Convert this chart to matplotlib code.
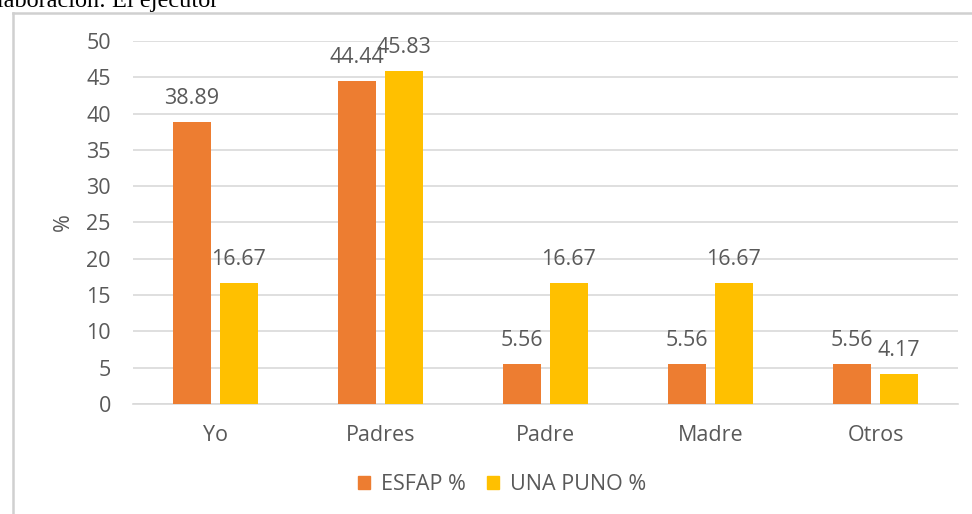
import matplotlib.pyplot as plt
import numpy as np
from matplotlib.lines import Line2D
from matplotlib.patches import Patch

categories = ["Yo", "Padres", "Padre", "Madre", "Otros"]
esfap = [38.89, 44.44, 5.56, 5.56, 5.56]
una_puno = [16.67, 45.83, 16.67, 16.67, 4.17]
series_names = ["ESFAP %", "UNA PUNO %"]
y_ticks = [0, 5, 10, 15, 20, 25, 30, 35, 40, 45, 50]

ORANGE = "#ED7D31"
YELLOW = "#FFC000"
TEXT = "#595959"
GRID = "#D9D9D9"

plt.rcParams["font.family"] = ["Open Sans", "DejaVu Sans"]

fig = plt.figure(figsize=(9.72, 5.14), dpi=100)
ax = fig.add_axes([133 / 972, 110 / 514, 825 / 972, 363 / 514])

x = np.arange(len(categories))
width = 0.23
offset = 0.142
bars1 = ax.bar(x - offset, esfap, width, color=ORANGE, zorder=3)
bars2 = ax.bar(x + offset, una_puno, width, color=YELLOW, zorder=3)

for bars, values in ((bars1, esfap), (bars2, una_puno)):
    for bar, value in zip(bars, values):
        ax.annotate(f"{value:.2f}", (bar.get_x() + bar.get_width() / 2, value),
                    xytext=(0, 13), textcoords="offset points",
                    ha="center", va="baseline", fontsize=15.5, color=TEXT, zorder=4)

ax.set_xlim(-0.5, len(categories) - 0.5)
ax.set_ylim(0, 50)
ax.set_yticks(y_ticks)
ax.set_xticks(x, categories)
ax.tick_params(axis="both", length=0, labelsize=15.5, labelcolor=TEXT)
ax.tick_params(axis="y", pad=16)
ax.tick_params(axis="x", pad=15)
ax.grid(axis="y", color=GRID, linewidth=1.2, zorder=0)
for side in ("top", "right", "left"):
    ax.spines[side].set_visible(False)
ax.spines["bottom"].set_color(GRID)
ax.spines["bottom"].set_linewidth(1.2)
ax.set_ylabel("%", fontsize=15.5, color=TEXT, labelpad=9)

handles = [Patch(color=ORANGE), Patch(color=YELLOW)]
fig.legend(handles, series_names, loc="center", bbox_to_anchor=(502 / 972, 1 - 485 / 514),
           ncol=2, frameon=False, fontsize=15.5, labelcolor=TEXT,
           handlelength=0.55, handleheight=0.55, handletextpad=0.5, columnspacing=1.0)

# chart area border (left and top edges visible in the crop)
fig.add_artist(Line2D([12.5 / 972, 12.5 / 972], [0, 1 - 13 / 514], color="#D0D0D0", linewidth=1.8))
fig.add_artist(Line2D([12.5 / 972, 1], [1 - 13 / 514, 1 - 13 / 514], color="#D0D0D0", linewidth=1.8))

fig.text(218 / 972, 1 - 7 / 514, "Elaboración: El ejecutor", ha="right", va="baseline",
         fontsize=17.5, family=["Liberation Serif", "DejaVu Serif"], color="black")

fig.savefig("out.png", dpi=100)
